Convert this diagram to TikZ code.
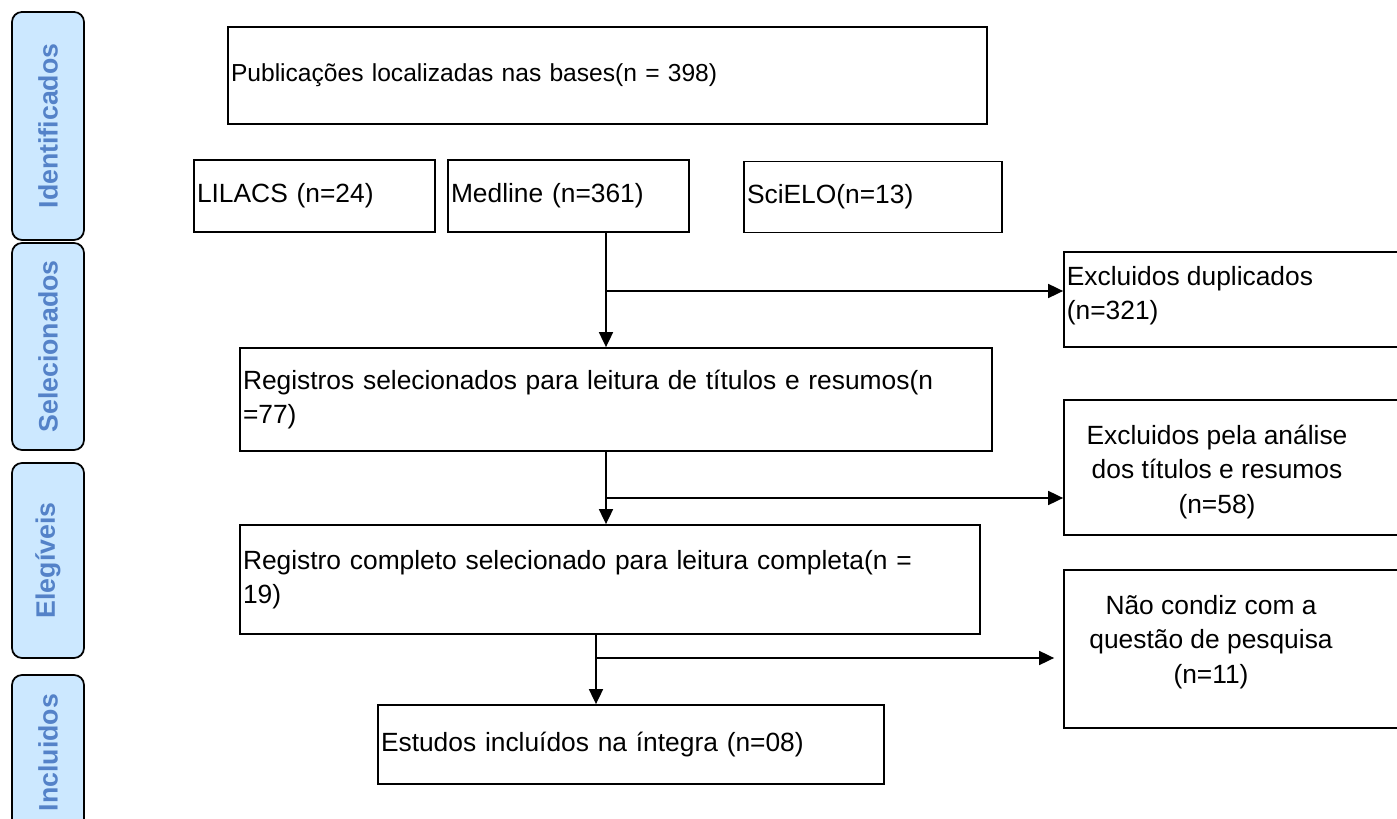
\documentclass[tikz,border=0pt]{standalone}
\usepackage{fontspec}
\setmainfont{Liberation Sans}
\usetikzlibrary{arrows.meta,positioning}

\definecolor{azulclaro}{RGB}{204,232,255}
\definecolor{azultexto}{RGB}{84,130,200}

\tikzset{
  caixa/.style={draw, rectangle, inner xsep=0.06cm, inner ysep=0pt,
    font=\fontsize{15}{19.5}\selectfont, align=left},
  etapa/.style={draw, rounded corners=0.2cm, fill=azulclaro, rotate=90,
    minimum height=1.44cm, inner sep=0pt, text=azultexto,
    font=\fontsize{15.2}{18}\selectfont\bfseries},
  rotulo/.style={font=\fontsize{15}{19.5}\selectfont, inner sep=0pt},
  seta/.style={-{Triangle[length=0.3cm,width=0.28cm]}},
}

\begin{document}
\begin{tikzpicture}[line width=1pt]
    \useasboundingbox (0,0) rectangle (27.94,16.36);
    \clip (0,0) rectangle (27.94,16.36);

    % Etapas (caixas azuis)
    \node[etapa, minimum width=4.56cm] (ident) at (0.96,13.84) {Identificados};
    \node[etapa, minimum width=4.14cm] (selec) at (0.96,9.43) {Selecionados};
    \node[etapa, minimum width=3.90cm] (eleg) at (0.96,5.15) {Elegíveis};
    \node[etapa, minimum width=3.10cm] (incl) at (0.96,1.31) {Incluidos};

    % Bases de dados
    \node[caixa, font=\fontsize{14}{18}\selectfont, minimum width=15.18cm, minimum height=1.94cm,
      text width=15.06cm] (pub) at (12.15,14.85)
      {Publicações localizadas nas bases(n = 398)};
    \node[caixa, minimum width=4.82cm, minimum height=1.44cm, text width=4.70cm] (lilacs) at (6.29,12.44)
      {LILACS (n=24)};
    \node[caixa, minimum width=4.82cm, minimum height=1.44cm, text width=4.70cm] (medline) at (11.37,12.44)
      {Medline (n=361)};
    \node[caixa, minimum width=5.16cm, minimum height=1.42cm, text width=5.04cm] (scielo) at (17.46,12.42)
      {SciELO(n=13)};

    % Triagem
    \node[caixa, minimum width=15.04cm, minimum height=2.06cm, text width=14.92cm] (reg) at (12.32,8.37)
      {Registros selecionados para leitura de títulos e resumos(n\\=77)};
    \node[caixa, minimum width=14.80cm, minimum height=2.18cm, text width=14.68cm] (comp) at (12.20,4.77)
      {Registro completo selecionado para leitura completa(n =\\19)};
    \node[caixa, minimum width=10.12cm, minimum height=1.58cm, text width=10.00cm] (estudos) at (12.62,1.47)
      {Estudos incluídos na íntegra (n=08)};

    % Excluidos (lado direito)
    \node[draw, minimum width=7.12cm, minimum height=1.90cm] (dup) at (24.84,10.37) {};
    \node[draw, minimum width=7.12cm, minimum height=2.70cm] (pela) at (24.84,7.01) {};
    \node[draw, minimum width=7.12cm, minimum height=3.16cm] (nao) at (24.84,3.38) {};
    \node[rotulo, anchor=west, align=left] (duptxt) at (21.32,10.45) {Excluidos duplicados\\(n=321)};
    \node[rotulo, align=center] (pelatxt) at (24.34,6.92) {Excluidos pela análise\\dos títulos e resumos\\(n=58)};
    \node[rotulo, align=center] (naotxt) at (24.22,3.52) {Não condiz com a\\questão de pesquisa\\(n=11)};

    % Setas
    \coordinate (r1) at (12.12,10.54);
    \coordinate (r2) at (12.12,6.40);
    \coordinate (r3) at (11.92,3.20);
    \draw[seta] (medline.south -| r1) -- (reg.north -| r1);
    \draw[seta] (r1) -- (r1 -| dup.west);
    \draw[seta] (reg.south -| r2) -- (comp.north -| r2);
    \draw[seta] (r2) -- (r2 -| pela.west);
    \draw[seta] (comp.south -| r3) -- (estudos.north -| r3);
    \draw[seta] (r3) -- ([xshift=-0.18cm]r3 -| nao.west);
\end{tikzpicture}
\end{document}
